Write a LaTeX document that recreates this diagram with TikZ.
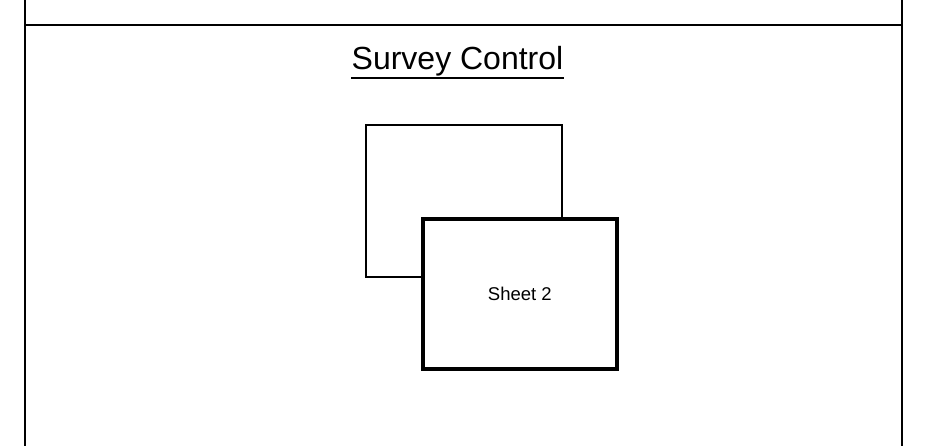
\documentclass[tikz,border=0pt]{standalone}
\usepackage{fontspec}
\setmainfont{Liberation Sans}
\begin{document}
\begin{tikzpicture}[x=1pt,y=-1pt,
  frameline/.style={line width=2pt,black},
  backsheet/.style={draw,line width=1.8pt,fill=white,minimum width=196pt,minimum height=152pt,inner sep=0pt},
  frontsheet/.style={draw,line width=4pt,fill=white,minimum width=194pt,minimum height=150pt,inner sep=0pt,font=\fontsize{18.5}{22}\selectfont},
  titletext/.style={font=\fontsize{32}{38}\selectfont,inner sep=0pt}]
\useasboundingbox (0,0) rectangle (946,446);
\coordinate (tl) at (25,0);
\coordinate (bl) at (25,446);
\coordinate (tr) at (902,0);
\coordinate (br) at (902,446);
\coordinate (hl) at (25,25);
\coordinate (hr) at (902,25);
\draw[frameline] (tl) -- (bl);
\draw[frameline] (tr) -- (br);
\draw[frameline] (hl) -- (hr);
\node[titletext,anchor=base] (title) at (457.5,69.3) {Survey Control};
\draw[line width=2pt] ([yshift=-8.4pt]title.base west) -- ([yshift=-8.4pt]title.base east);
\node[backsheet] (back) at (464,200.7) {};
\node[frontsheet] (front) at (519.8,293.8) {Sheet 2};
\end{tikzpicture}
\end{document}
